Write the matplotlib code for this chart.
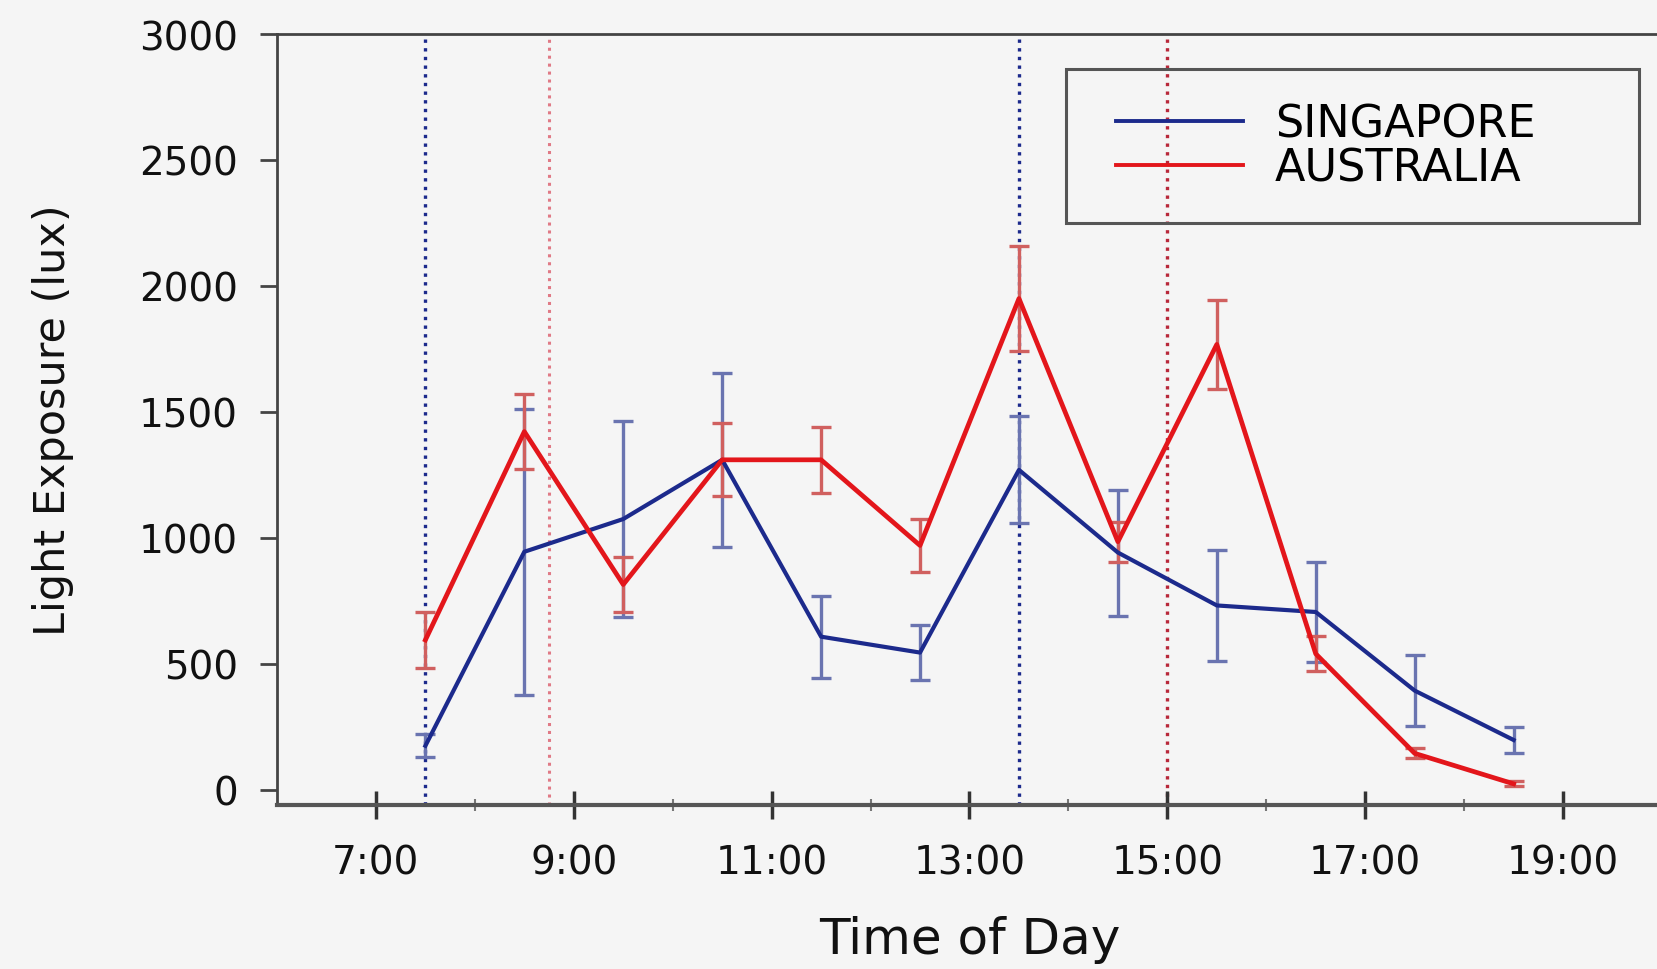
import matplotlib
matplotlib.use("Agg")
import matplotlib.pyplot as plt
from matplotlib.patches import Rectangle

# ---- data ----
hours = [7.5, 8.5, 9.5, 10.5, 11.5, 12.5, 13.5, 14.5, 15.5, 16.5, 17.5, 18.5]
singapore = [175, 945, 1075, 1310, 608, 545, 1270, 942, 732, 706, 394, 198]
singapore_err = [45, 568, 390, 345, 162, 108, 212, 250, 220, 200, 140, 52]
australia = [595, 1422, 815, 1310, 1310, 970, 1950, 985, 1768, 540, 145, 24]
australia_err = [110, 150, 110, 145, 130, 105, 210, 80, 175, 70, 20, 10]
sg_marks = [7.5, 13.5]
au_marks = [8.75, 15.0]
tick_hours = [7, 9, 11, 13, 15, 17, 19]
tick_labels = ["7:00", "9:00", "11:00", "13:00", "15:00", "17:00", "19:00"]
minor_hours = [8, 10, 12, 14, 16, 18]
y_ticks = [0, 500, 1000, 1500, 2000, 2500, 3000]

BG = "#f5f5f5"
BLUE = "#1c2a8c"
RED = "#e3161b"
W, H = 1658, 970

plt.rcParams['font.family'] = ['DejaVu Sans']
fig = plt.figure(figsize=(W/100, H/100), dpi=100, facecolor=BG)
ax = fig.add_axes([277/W, 1-806/H, (1662-277)/W, (806-35)/H])
ax.set_facecolor(BG)

ax.axvline(sg_marks[0], color=BLUE, linestyle=(0, (1, 1.6)), linewidth=2.4, zorder=1)
ax.axvline(sg_marks[1], color=BLUE, linestyle=(0, (1, 1.6)), linewidth=2.4, zorder=1)
ax.axvline(au_marks[0], color="#e07a86", linestyle=(0, (1, 1.6)), linewidth=2.2, zorder=1)
ax.axvline(au_marks[1], color="#b8283a", linestyle=(0, (1, 1.6)), linewidth=2.4, zorder=1)

ax.errorbar(hours, singapore, yerr=singapore_err, fmt='none', ecolor="#6a74b0",
            elinewidth=2.4, capsize=7, capthick=2.4, zorder=2)
ax.errorbar(hours, australia, yerr=australia_err, fmt='none', ecolor="#d0605f",
            elinewidth=2.4, capsize=7, capthick=2.4, zorder=2)
ax.plot(hours, singapore, color=BLUE, linewidth=3.0, label="SINGAPORE", zorder=3)
ax.plot(hours, australia, color=RED, linewidth=3.4, label="AUSTRALIA", zorder=3)

ax.set_xlim(6, 20)
ax.set_ylim(-60, 3000)
ax.set_xticks(tick_hours)
ax.set_xticklabels(tick_labels)
ax.set_xticks(minor_hours, minor=True)
ax.set_yticks(y_ticks)

for s in ax.spines.values():
    s.set_color("#444444")
    s.set_linewidth(2.0)
ax.spines['bottom'].set_linewidth(3.0)
ax.spines['bottom'].set_color("#555555")

ax.tick_params(axis='y', direction='out', length=12, width=2, color="#444444",
               labelsize=28, pad=16, labelcolor="#111111")
ax.tick_params(axis='x', which='major', direction='inout', length=20, width=2.5,
               color="#333333", labelsize=28, pad=18, labelcolor="#111111")
ax.tick_params(axis='x', which='minor', direction='inout', length=8, width=1.5,
               color="#777777")

ax.set_xlabel("Time of Day", fontsize=36, labelpad=24, color="#111111")
ax.set_ylabel("Light Exposure (lux)", fontsize=31, labelpad=47, color="#111111")

# legend (frame drawn separately so its padding can match the reference)
leg = ax.legend(loc='center left', bbox_to_anchor=(1116/W, 1-147/H),
                bbox_transform=fig.transFigure, fontsize=32, frameon=False,
                handlelength=2.85, handletextpad=0.72, labelspacing=0.02,
                borderpad=0, borderaxespad=0)
for line in leg.get_lines():
    line.set_linewidth(2.8)
fig.patches.append(Rectangle((1066/W, 1-224/H), (1639-1066)/W, (224-70)/H,
                             transform=fig.transFigure, fill=False,
                             edgecolor="#555555", linewidth=2.2, zorder=5))

fig.savefig("out.png", dpi=100, facecolor=BG)
